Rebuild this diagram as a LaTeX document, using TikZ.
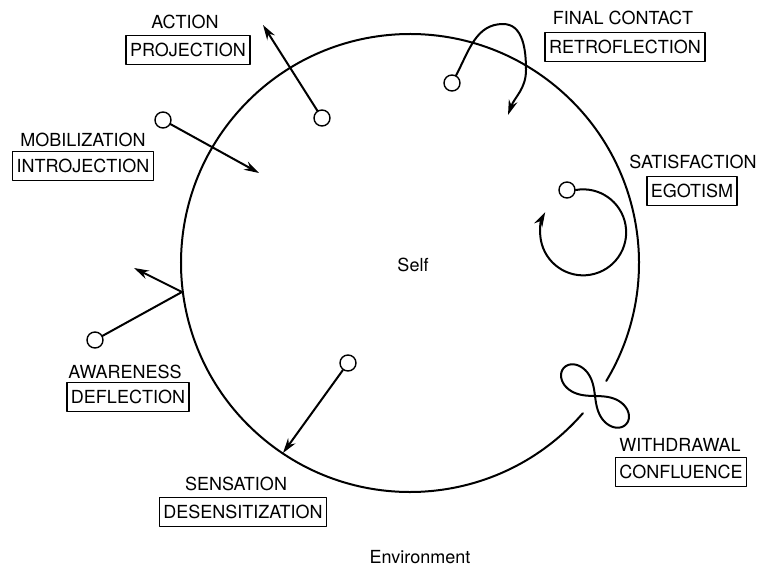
\documentclass[tikz,border=0pt]{standalone}
\usepackage{fontspec}
\setmainfont{TeX Gyre Heros}
\usetikzlibrary{arrows.meta}
\begin{document}
\begin{tikzpicture}[x=1pt,y=-1pt,line join=round,line cap=round,>={Stealth[length=15pt,width=9pt]},line width=2pt]
	\tikzset{word/.style={font=\fontsize{18}{20}\selectfont,inner sep=0pt},
		tag/.style={word,draw,line width=1.4pt,inner xsep=4pt,minimum height=29pt},
		dot/.style={circle,draw,line width=1.4pt,fill=white,minimum size=16pt,inner sep=0pt}}
	\useasboundingbox (0,0) rectangle (765,567);
	\coordinate (c) at (410,263);
	% self boundary, left open where the withdrawal loop sits
	\draw (c) ++(41:229) arc[start angle=41,end angle=391,radius=229];
	\node[word] (self) at (413,265) {Self};
	\node[word] (env) at (420,557) {Environment};
	% action / projection
	\node[word] (actlab) at (185,22) {ACTION};
	\node[tag] (projbox) at (188,50) {PROJECTION};
	\node[dot] (act) at (322,118) {};
	\coordinate (acttip) at (263,25);
	\draw[->] (act) -- (acttip);
	% final contact / retroflection
	\node[word] (finlab) at (623,18) {FINAL CONTACT};
	\node[tag] (retrobox) at (625,47) {RETROFLECTION};
	\node[dot] (fin) at (452,83) {};
	\draw[->] (fin) to[out=62,in=180] (503,24) to[out=0,in=90] (526,70) to[out=-90,in=70] (508,115);
	% mobilization / introjection
	\node[word] (moblab) at (83,140) {MOBILIZATION};
	\node[tag] (introbox) at (83,166) {INTROJECTION};
	\node[dot] (mob) at (163,120) {};
	\coordinate (mobtip) at (259,173);
	\draw[->] (mob) -- (mobtip);
	% satisfaction / egotism
	\node[word] (satlab) at (693,162) {SATISFACTION};
	\node[tag] (egobox) at (692,191) {EGOTISM};
	\node[dot] (sat) at (567,190) {};
	\draw[->] (sat.east) arc[start angle=-100,end angle=208,radius=43];
	% awareness / deflection
	\node[word] (awalab) at (125,372) {AWARENESS};
	\node[tag] (deflbox) at (128,397) {DEFLECTION};
	\node[dot] (awa) at (95,340) {};
	\coordinate (awapt) at (182,292);
	\coordinate (awatip) at (134,268);
	\draw (awa) -- (awapt);
	\draw[->] (awapt) -- (awatip);
	% sensation / desensitization
	\node[word] (senlab) at (236,484) {SENSATION};
	\node[tag] (desbox) at (243,512) {DESENSITIZATION};
	\node[dot] (sen) at (348,363) {};
	\coordinate (sentip) at (283,453);
	\draw[->] (sen) -- (sentip);
	% withdrawal / confluence
	\node[word] (witlab) at (680,445) {WITHDRAWAL};
	\node[tag] (confbox) at (681,472) {CONFLUENCE};
	\draw[shift={(595,396)},rotate=-42] plot[domain=0:360,samples=120,smooth,variable=\t]
		({42*cos(\t)/(1+sin(\t)^2)},{36*sin(\t)*cos(\t)/(1+sin(\t)^2)});
\end{tikzpicture}
\end{document}
